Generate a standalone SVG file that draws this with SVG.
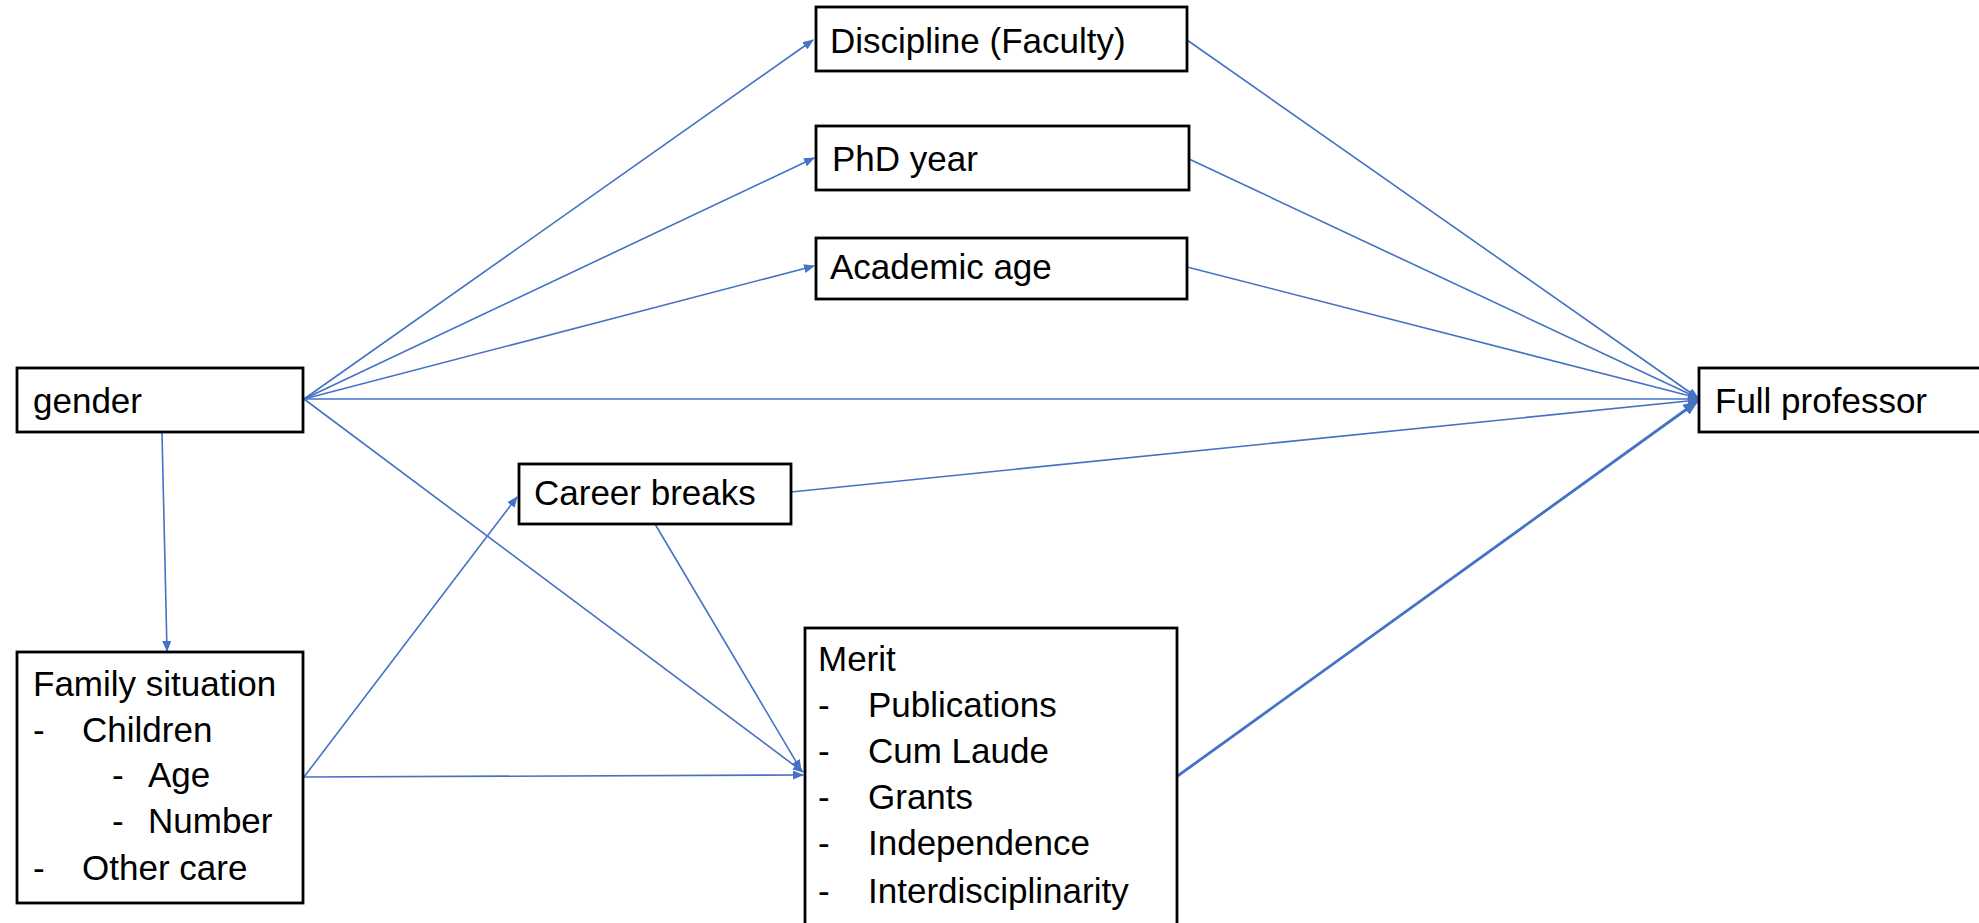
<svg xmlns="http://www.w3.org/2000/svg" width="1979" height="923" viewBox="0 0 1979 923">
<defs>
<style>
.box{fill:#fff;stroke:#000;stroke-width:2.8}
.t{font-family:"Liberation Sans",Arial,sans-serif;font-size:35px;fill:#000}
.c{stroke:#4472C4;stroke-width:1.6;fill:none;marker-end:url(#ah)}
.ct{stroke:#4472C4;stroke-width:2.8;fill:none;marker-end:url(#ahb)}
</style>
<marker id="ah" markerUnits="userSpaceOnUse" markerWidth="11" markerHeight="9" refX="10" refY="4.5" orient="auto"><path d="M0,0 L11,4.5 L0,9 z" fill="#4472C4"/></marker>
<marker id="ahb" markerUnits="userSpaceOnUse" markerWidth="16" markerHeight="12" refX="15" refY="6" orient="auto"><path d="M0,0 L16,6 L0,12 z" fill="#4472C4"/></marker>
</defs>
<rect width="1979" height="923" fill="#fff"/>
<g id="connectors">
<line class="c" x1="304" y1="399" x2="813" y2="40"/>
<line class="c" x1="304" y1="399" x2="814" y2="158"/>
<line class="c" x1="304" y1="399" x2="814" y2="266"/>
<line class="c" x1="304" y1="399" x2="1698" y2="399"/>
<line class="c" x1="304" y1="399" x2="803" y2="772"/>
<line class="c" x1="162" y1="433" x2="167" y2="651"/>
<line class="c" x1="304" y1="777" x2="517" y2="497"/>
<line class="c" x1="304" y1="777" x2="803" y2="775"/>
<line class="c" x1="655" y1="524" x2="801" y2="770"/>
<line class="c" x1="791" y1="492" x2="1698" y2="400"/>
<line class="c" x1="1187" y1="40" x2="1698" y2="398"/>
<line class="c" x1="1189" y1="159" x2="1698" y2="398"/>
<line class="c" x1="1187" y1="267" x2="1698" y2="398"/>
<line class="ct" x1="1172" y1="780" x2="1698" y2="401"/>
</g>
<g id="discipline"><rect class="box" x="816" y="7" width="371" height="64"/><text class="t" x="830" y="53">Discipline (Faculty)</text></g>
<g id="phd"><rect class="box" x="816" y="126" width="373" height="64"/><text class="t" x="832" y="171">PhD year</text></g>
<g id="academic"><rect class="box" x="816" y="238" width="371" height="61"/><text class="t" x="830" y="279">Academic age</text></g>
<g id="gender"><rect class="box" x="17" y="368" width="286" height="64"/><text class="t" x="33" y="413">gender</text></g>
<g id="fullprof"><rect class="box" x="1699" y="368" width="300" height="64"/><text class="t" x="1715" y="413">Full professor</text></g>
<g id="career"><rect class="box" x="519" y="464" width="272" height="60"/><text class="t" x="534" y="505">Career breaks</text></g>
<g id="family"><rect class="box" x="17" y="652" width="286" height="251"/>
<text class="t" x="33" y="696">Family situation</text>
<text class="t" x="33" y="742">-</text><text class="t" x="82" y="742">Children</text>
<text class="t" x="112" y="787">-</text><text class="t" x="148" y="787">Age</text>
<text class="t" x="112" y="833">-</text><text class="t" x="148" y="833">Number</text>
<text class="t" x="33" y="880">-</text><text class="t" x="82" y="880">Other care</text>
</g>
<g id="merit"><rect class="box" x="805" y="628" width="372" height="320"/>
<text class="t" x="818" y="671">Merit</text>
<text class="t" x="818" y="717">-</text><text class="t" x="868" y="717">Publications</text>
<text class="t" x="818" y="763">-</text><text class="t" x="868" y="763">Cum Laude</text>
<text class="t" x="818" y="809">-</text><text class="t" x="868" y="809">Grants</text>
<text class="t" x="818" y="855">-</text><text class="t" x="868" y="855">Independence</text>
<text class="t" x="818" y="903">-</text><text class="t" x="868" y="903">Interdisciplinarity</text>
</g>
</svg>
